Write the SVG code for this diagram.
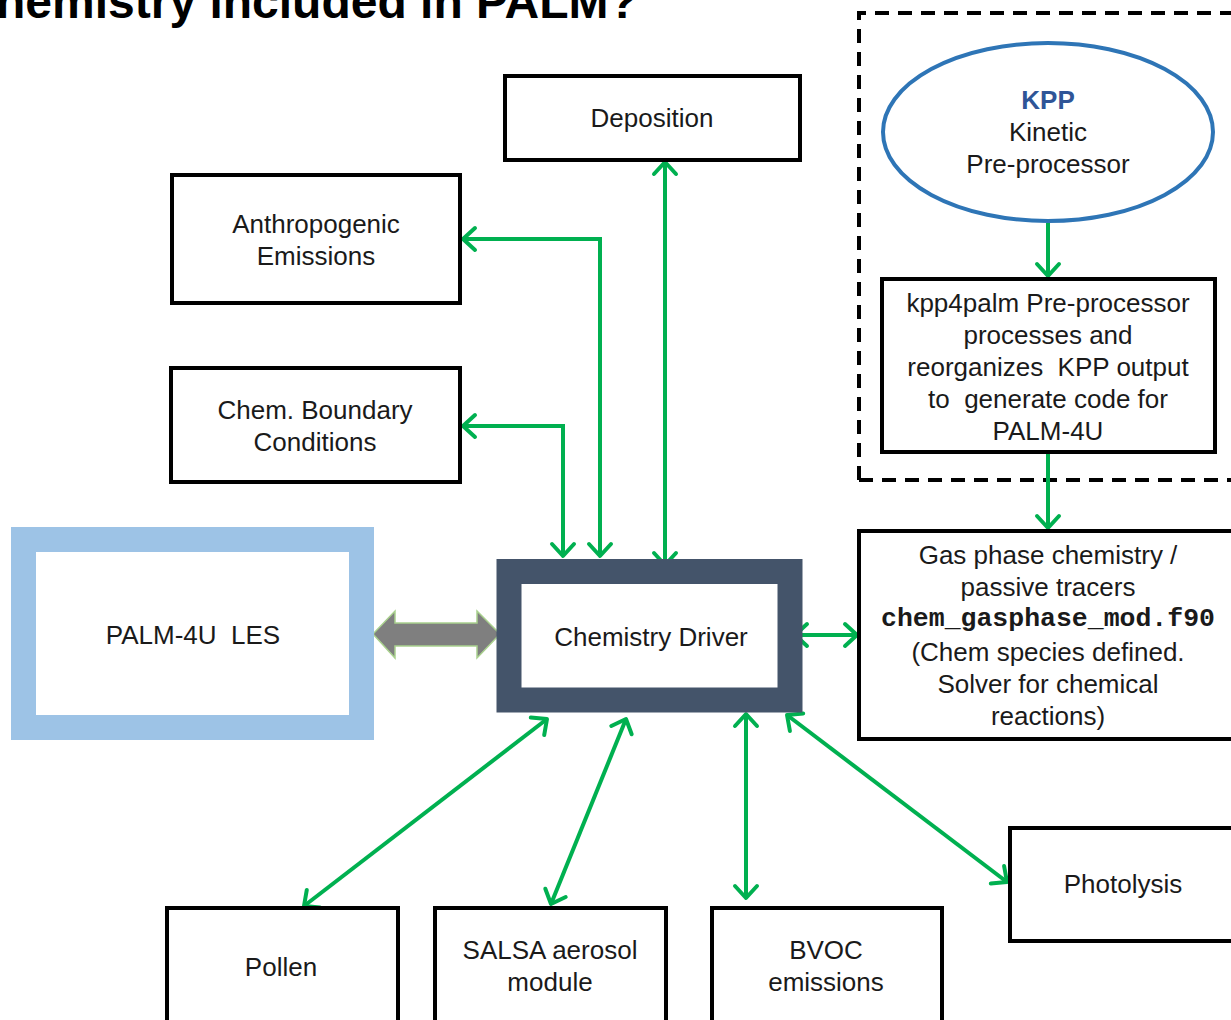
<svg xmlns="http://www.w3.org/2000/svg" width="1231" height="1020" viewBox="0 0 1231 1020">
<style>
.box{fill:#fff;stroke:#000;stroke-width:4}
.t{font-family:"Liberation Sans",Arial,sans-serif;font-size:26px;fill:#1a1a1a;text-anchor:middle}
.mono{font-family:"Liberation Mono","Courier New",monospace;font-size:26.5px;font-weight:bold;fill:#1a1a1a;text-anchor:middle}
.c{fill:none;stroke:#00B050;stroke-width:4}
</style>
<defs>
<marker id="ah" markerUnits="userSpaceOnUse" markerWidth="20" markerHeight="28" viewBox="0 0 20 28" refX="15" refY="14" orient="auto-start-reverse">
<path d="M3,3 L15,14 L3,25" fill="none" stroke="#00B050" stroke-width="4" stroke-linecap="round" stroke-linejoin="round"/>
</marker>
</defs>
<rect width="1231" height="1020" fill="#fff"/>
<text x="-4" y="18" font-family="Liberation Sans,Arial,sans-serif" font-size="48" font-weight="bold" fill="#000">hemistry included in PALM?</text>

<g id="kpp-group">
<path d="M859,480 L859,13 L1240,13 M859,480 L1240,480" fill="none" stroke="#000" stroke-width="4" stroke-dasharray="14,9"/>
</g>

<g id="connectors">
<line class="c" x1="665" y1="162" x2="665" y2="565" marker-start="url(#ah)" marker-end="url(#ah)"/>
<polyline class="c" points="463,239 600,239 600,556" marker-start="url(#ah)" marker-end="url(#ah)"/>
<polyline class="c" points="463,426 563,426 563,556" marker-start="url(#ah)" marker-end="url(#ah)"/>
<line class="c" x1="795" y1="635" x2="857" y2="635" marker-start="url(#ah)" marker-end="url(#ah)"/>
<line class="c" x1="1048" y1="223" x2="1048" y2="276" marker-end="url(#ah)"/>
<line class="c" x1="1048" y1="453" x2="1048" y2="528" marker-end="url(#ah)"/>
<line class="c" x1="547" y1="719" x2="304" y2="906" marker-start="url(#ah)" marker-end="url(#ah)"/>
<line class="c" x1="626" y1="719" x2="551" y2="904" marker-start="url(#ah)" marker-end="url(#ah)"/>
<line class="c" x1="746" y1="714" x2="746" y2="898" marker-start="url(#ah)" marker-end="url(#ah)"/>
<line class="c" x1="787" y1="715" x2="1007" y2="882" marker-start="url(#ah)" marker-end="url(#ah)"/>
<polygon points="373,634 395,611 395,623 477,623 477,611 500,634 477,658 477,646 395,646 395,658" fill="#7F7F7F" stroke="#A9D18E" stroke-width="1.5"/>
</g>

<g id="deposition">
<rect class="box" x="505" y="76" width="295" height="84"/>
<text class="t" x="652" y="127">Deposition</text>
</g>

<g id="anthropogenic">
<rect class="box" x="172" y="175" width="288" height="128"/>
<text class="t" x="316" y="233">Anthropogenic</text>
<text class="t" x="316" y="265">Emissions</text>
</g>

<g id="boundary">
<rect class="box" x="171" y="368" width="289" height="114"/>
<text class="t" x="315" y="419">Chem. Boundary</text>
<text class="t" x="315" y="451">Conditions</text>
</g>

<g id="palm">
<rect x="23.5" y="539.5" width="338" height="188" fill="#fff" stroke="#9DC3E6" stroke-width="25"/>
<text class="t" x="193" y="644" xml:space="preserve">PALM-4U  LES</text>
</g>

<g id="driver">
<rect x="509" y="571.5" width="281" height="128.5" fill="#fff" stroke="#44546A" stroke-width="25"/>
<text class="t" x="651" y="646">Chemistry Driver</text>
</g>

<g id="kpp">
<ellipse cx="1048" cy="132" rx="165" ry="89" fill="#fff" stroke="#2E75B6" stroke-width="4"/>
<text class="t" x="1048" y="109" font-weight="bold" style="fill:#2F5597">KPP</text>
<text class="t" x="1048" y="141">Kinetic</text>
<text class="t" x="1048" y="173">Pre-processor</text>
</g>

<g id="kpp4palm">
<rect class="box" x="882" y="279" width="333" height="173"/>
<text class="t" x="1048" y="312">kpp4palm Pre-processor</text>
<text class="t" x="1048" y="344">processes and</text>
<text class="t" x="1048" y="376" xml:space="preserve">reorganizes  KPP output</text>
<text class="t" x="1048" y="408" xml:space="preserve">to  generate code for</text>
<text class="t" x="1048" y="440">PALM-4U</text>
</g>

<g id="gasphase">
<rect class="box" x="859" y="531" width="390" height="208"/>
<text class="t" x="1048" y="564">Gas phase chemistry /</text>
<text class="t" x="1048" y="596">passive tracers</text>
<text class="mono" x="1048" y="626">chem_gasphase_mod.f90</text>
<text class="t" x="1048" y="661">(Chem species defined.</text>
<text class="t" x="1048" y="693">Solver for chemical</text>
<text class="t" x="1048" y="725">reactions)</text>
</g>

<g id="photolysis">
<rect class="box" x="1010" y="828" width="240" height="113"/>
<text class="t" x="1123" y="893">Photolysis</text>
</g>

<g id="pollen">
<rect class="box" x="167" y="908" width="231" height="130"/>
<text class="t" x="281" y="976">Pollen</text>
</g>

<g id="salsa">
<rect class="box" x="435" y="908" width="231" height="130"/>
<text class="t" x="550" y="959">SALSA aerosol</text>
<text class="t" x="550" y="991">module</text>
</g>

<g id="bvoc">
<rect class="box" x="712" y="908" width="230" height="130"/>
<text class="t" x="826" y="959">BVOC</text>
<text class="t" x="826" y="991">emissions</text>
</g>
</svg>
